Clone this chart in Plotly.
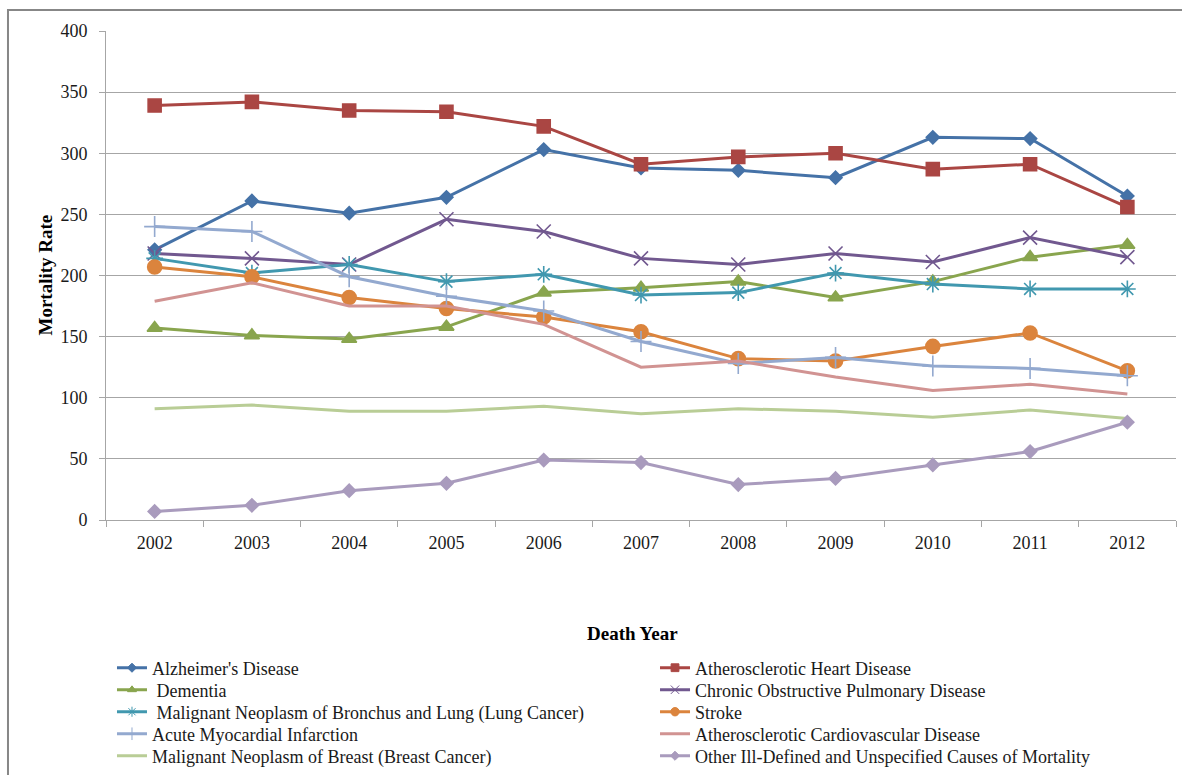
import plotly.graph_objects as go

years = ["2002", "2003", "2004", "2005", "2006", "2007", "2008", "2009", "2010", "2011", "2012"]

alzheimers = [221, 261, 251, 264, 303, 288, 286, 280, 313, 312, 265]
athero_heart = [339, 342, 335, 334, 322, 291, 297, 300, 287, 291, 256]
dementia = [157, 151, 148, 158, 186, 190, 195, 182, 195, 215, 225]
copd = [218, 214, 209, 246, 236, 214, 209, 218, 211, 231, 215]
lung_cancer = [214, 202, 209, 195, 201, 184, 186, 202, 193, 189, 189]
stroke = [207, 199, 182, 173, 166, 154, 132, 130, 142, 153, 122]
acute_mi = [240, 236, 199, 183, 171, 146, 128, 133, 126, 124, 118]
ascvd = [179, 194, 175, 175, 160, 125, 130, 117, 106, 111, 103]
breast_cancer = [91, 94, 89, 89, 93, 87, 91, 89, 84, 90, 83]
other_causes = [7, 12, 24, 30, 49, 47, 29, 34, 45, 56, 80]

# (legend label, values, colour, marker symbol, marker size)
series = [
    ("Alzheimer's Disease", alzheimers, "#4572A7", "diamond", 10),
    ("Atherosclerotic Heart Disease", athero_heart, "#AA4643", "square", 13),
    (" Dementia", dementia, "#89A54E", "triangle-up", 13),
    ("Chronic Obstructive Pulmonary Disease", copd, "#71588F", "x-thin-open", 14),
    (" Malignant Neoplasm of Bronchus and Lung (Lung Cancer)", lung_cancer, "#4198AF", "asterisk-open", 14),
    ("Stroke", stroke, "#DB843D", "circle", 14),
    ("Acute Myocardial Infarction", acute_mi, "#93A9CF", "cross-thin-open", 15),
    ("Atherosclerotic Cardiovascular Disease", ascvd, "#D19392", None, 0),
    ("Malignant Neoplasm of Breast (Breast Cancer)", breast_cancer, "#B9CD96", None, 0),
    ("Other Ill-Defined and Unspecified Causes of Mortality", other_causes, "#A99BBD", "diamond", 10),
]

FONT = "Liberation Serif, Times New Roman, serif"

# Key below the chart: two columns, five rows; each entry has its own legend box
# so that the row pitch can be set exactly.
KEY_COL_X = [0.0056, 0.5131]
KEY_ROW_Y = [-0.3027, -0.3477, -0.3927, -0.4377, -0.4827]

fig = go.Figure()
legend_layouts = {}
for i, (name, vals, color, symbol, size) in enumerate(series):
    mode = "lines+markers" if symbol else "lines"
    fig.add_trace(go.Scatter(
        x=years, y=vals, name=name, mode=mode, showlegend=False,
        line=dict(color=color, width=3),
        marker=dict(color=color, symbol=symbol or "circle", size=size,
                    line=dict(color=color, width=1.6)),
    ))
    leg_id = "legend" if i == 0 else f"legend{i + 1}"
    fig.add_trace(go.Scatter(
        x=[None], y=[None], name=name, mode=mode, legend=leg_id,
        line=dict(color=color, width=3),
        marker=dict(color=color, symbol=symbol or "circle", size=max(size * 0.6, 7),
                    line=dict(color=color, width=1)),
    ))
    legend_layouts[leg_id] = dict(
        orientation="v", xanchor="left", yanchor="middle",
        x=KEY_COL_X[i % 2], y=KEY_ROW_Y[i // 2],
        font=dict(family=FONT, size=18, color="#1a1a1a"),
        tracegroupgap=0, bgcolor="rgba(0,0,0,0)", borderwidth=0,
    )

fig.update_layout(
    width=1182, height=775,
    margin=dict(l=106, r=6, t=31, b=255, autoexpand=False),
    paper_bgcolor="white", plot_bgcolor="white",
    font=dict(family=FONT, size=18, color="#1a1a1a"),
    xaxis=dict(
        type="category", range=[-0.5, 10.5],
        tickson="boundaries", ticks="outside", ticklen=6, tickcolor="#A6A6A6",
        showline=True, linecolor="#A6A6A6", linewidth=1,
        showgrid=False, ticklabelstandoff=6,
        tickfont=dict(family=FONT, size=18, color="#1a1a1a"),
    ),
    yaxis=dict(
        range=[0, 400], dtick=50, tick0=0,
        ticks="outside", ticklen=6, tickcolor="#A6A6A6",
        showline=True, linecolor="#A6A6A6", linewidth=1,
        showgrid=True, gridcolor="#A6A6A6", gridwidth=1,
        zeroline=False, ticklabelstandoff=8,
        tickfont=dict(family=FONT, size=18, color="#1a1a1a"),
    ),
    annotations=[
        dict(text="<b>Mortality Rate</b>", textangle=-90,
             xref="paper", yref="paper", x=-0.057, y=0.5,
             xanchor="center", yanchor="middle",
             showarrow=False, font=dict(family=FONT, size=19, color="#000")),
        dict(text="<b>Death Year</b>",
             xref="paper", yref="paper", x=0.4916, y=-0.2331,
             xanchor="center", yanchor="middle",
             showarrow=False, font=dict(family=FONT, size=19, color="#000")),
    ],
    shapes=[
        dict(type="rect", xref="paper", yref="paper",
             x0=-0.0916, x1=1.02, y0=-0.56, y1=1.0429,
             line=dict(color="#878787", width=2), fillcolor="rgba(0,0,0,0)",
             layer="below"),
    ],
    **legend_layouts,
)

fig.write_html("out.html")
